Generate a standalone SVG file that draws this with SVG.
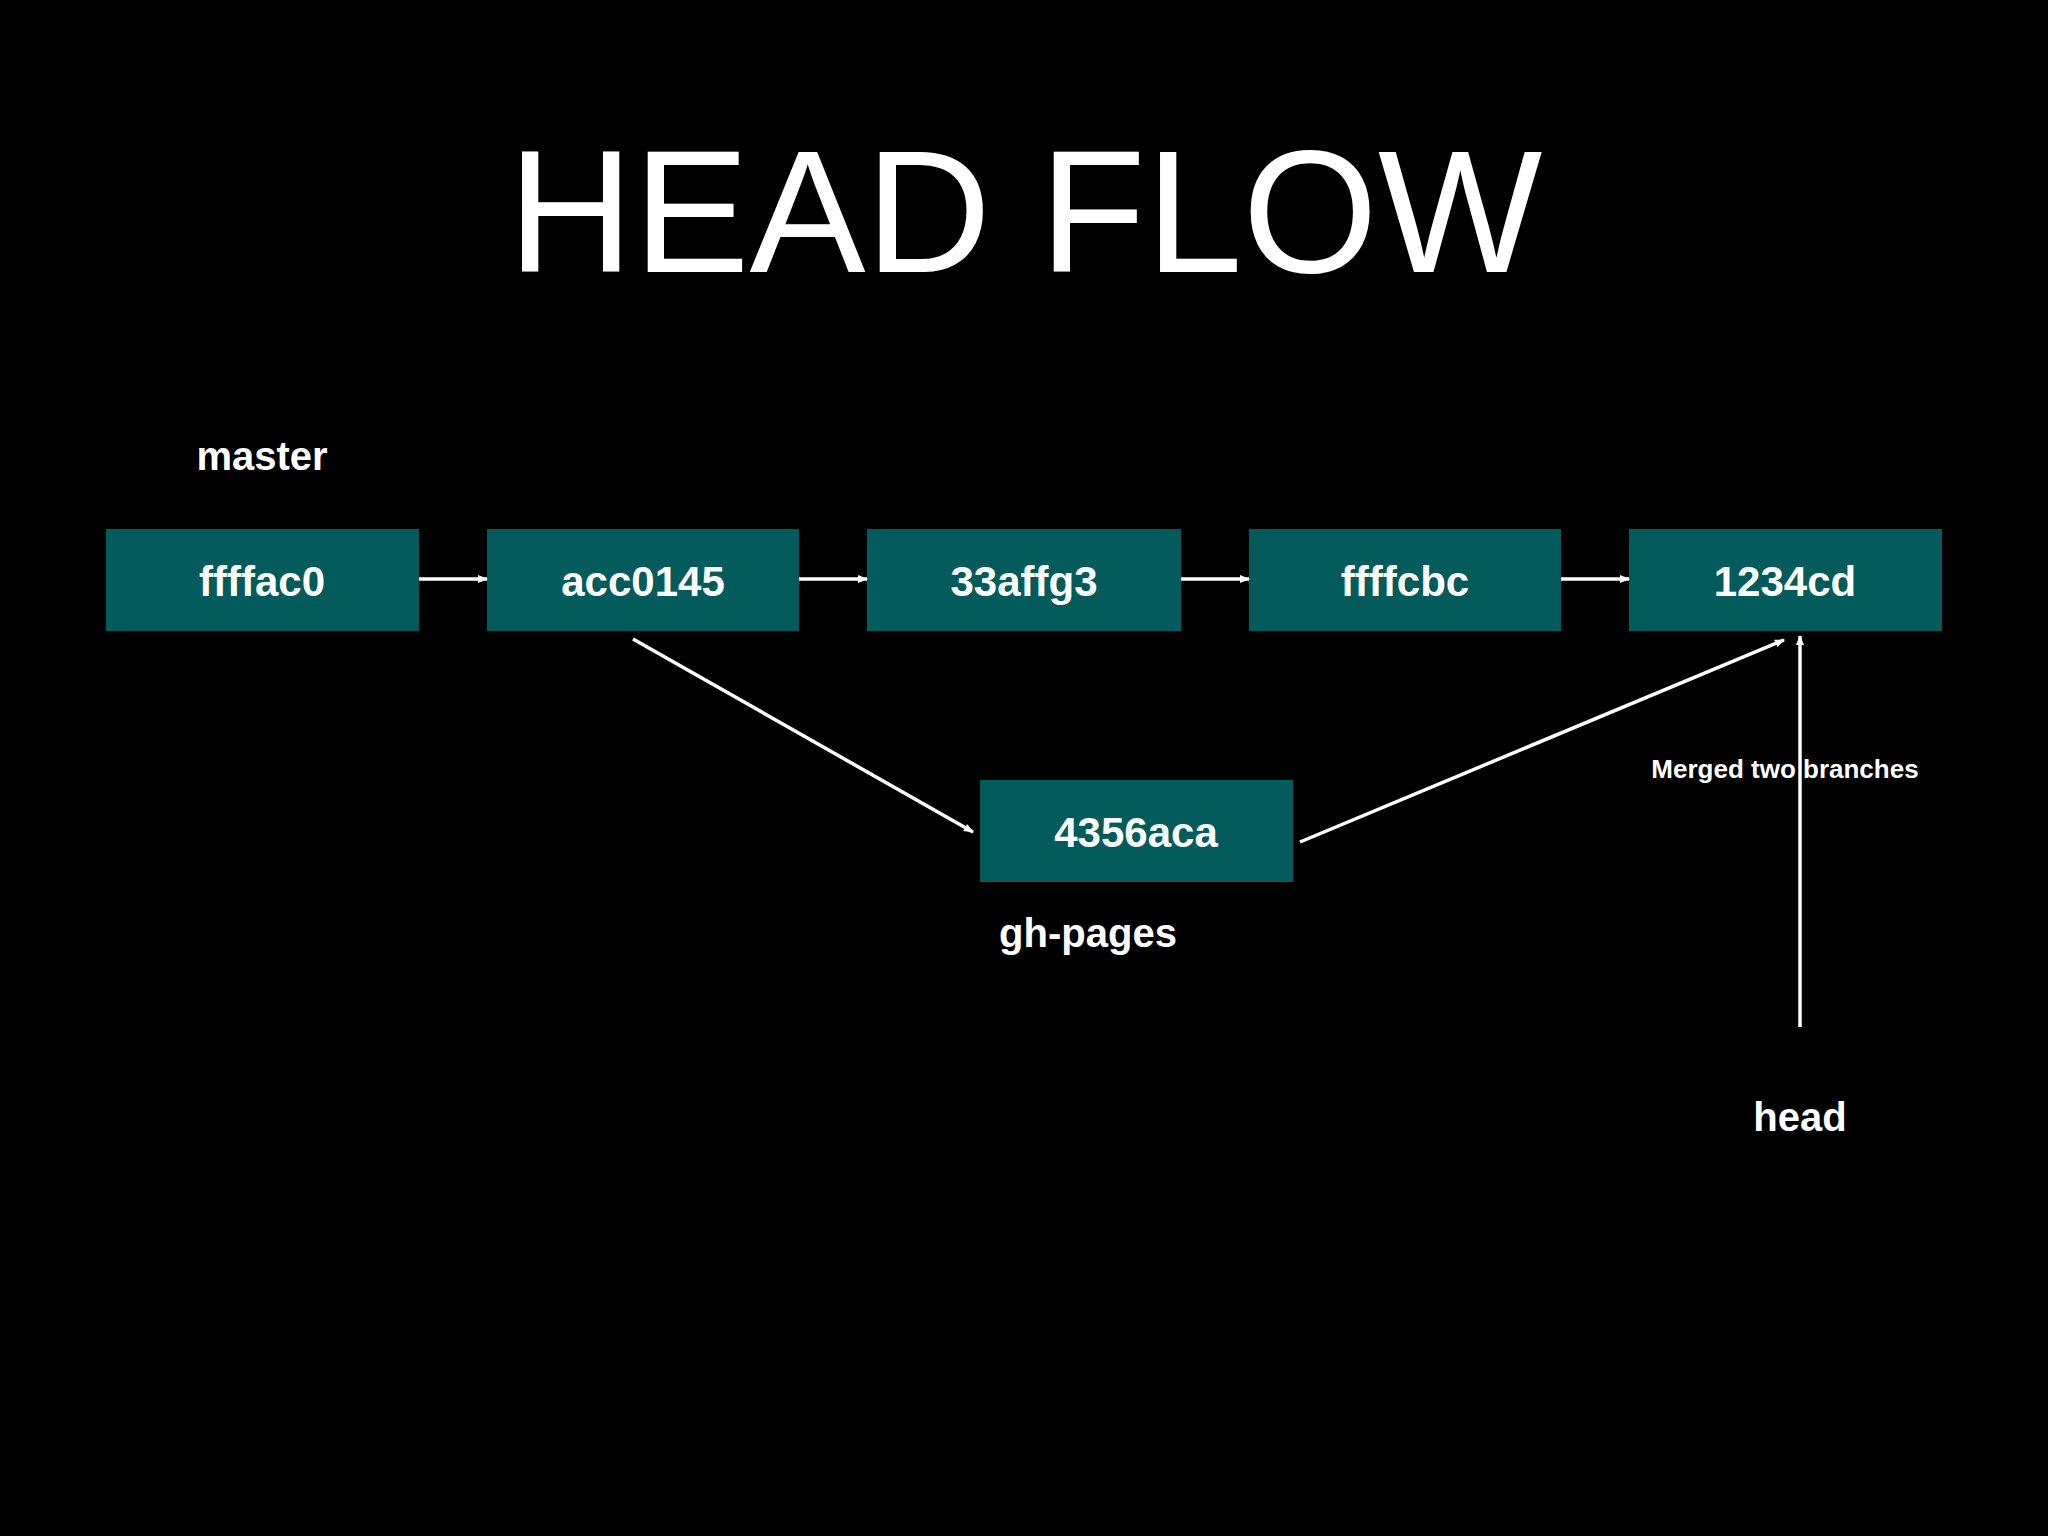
<svg xmlns="http://www.w3.org/2000/svg" width="2048" height="1536" viewBox="0 0 2048 1536">
<defs>
<marker id="ah" markerWidth="10" markerHeight="10" refX="9" refY="5" orient="auto" markerUnits="userSpaceOnUse"><path d="M0,1 L10,5 L0,9 z" fill="#fff"/></marker>
<style>
.box{fill:#035b5b}
.lbl{font-family:"Liberation Sans",Arial,sans-serif;font-weight:bold;fill:#fff;text-anchor:middle}
.c{stroke:#fff;stroke-width:3.5;fill:none;marker-end:url(#ah)}
</style>
</defs>
<rect width="2048" height="1536" fill="#000"/>
<text x="1025" y="272" font-family="'Liberation Sans',Arial,sans-serif" font-size="174" fill="#fff" text-anchor="middle">HEAD FLOW</text>
<g id="n1"><rect class="box" x="106" y="529" width="313" height="102"/><text class="lbl" x="262" y="596" font-size="42">ffffac0</text></g>
<g id="n2"><rect class="box" x="487" y="529" width="312" height="102"/><text class="lbl" x="643" y="596" font-size="42">acc0145</text></g>
<g id="n3"><rect class="box" x="867" y="529" width="314" height="102"/><text class="lbl" x="1024" y="596" font-size="42">33affg3</text></g>
<g id="n4"><rect class="box" x="1249" y="529" width="312" height="102"/><text class="lbl" x="1405" y="596" font-size="42">ffffcbc</text></g>
<g id="n5"><rect class="box" x="1629" y="529" width="313" height="102"/><text class="lbl" x="1785" y="596" font-size="42">1234cd</text></g>
<g id="n6"><rect class="box" x="980" y="780" width="313" height="102"/><text class="lbl" x="1136" y="847" font-size="42">4356aca</text></g>
<g id="labels">
<text class="lbl" x="262" y="470" font-size="40">master</text>
<text class="lbl" x="1088" y="947" font-size="40">gh-pages</text>
<text class="lbl" x="1800" y="1131" font-size="40">head</text>
<text class="lbl" x="1785" y="778" font-size="26">Merged two branches</text>
</g>
<g id="connectors">
<line class="c" x1="419" y1="579" x2="487" y2="579"/>
<line class="c" x1="799" y1="579" x2="867" y2="579"/>
<line class="c" x1="1181" y1="579" x2="1249" y2="579"/>
<line class="c" x1="1561" y1="579" x2="1629" y2="579"/>
<line class="c" x1="633" y1="639" x2="973" y2="832"/>
<line class="c" x1="1300" y1="842" x2="1784" y2="640"/>
<line class="c" x1="1800" y1="1027" x2="1800" y2="636"/>
</g>
</svg>
